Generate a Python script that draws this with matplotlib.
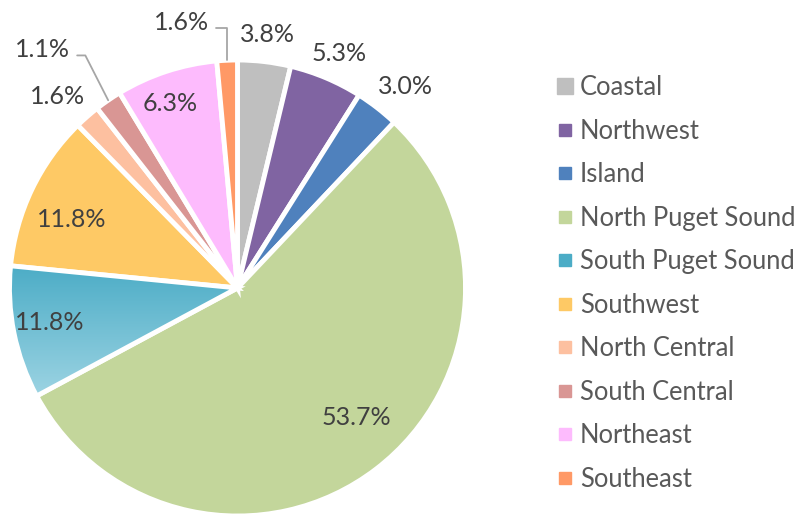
import matplotlib.pyplot as plt
import numpy as np
from matplotlib.lines import Line2D

plt.rcParams['font.family'] = ['Lato', 'DejaVu Sans']

regions = ['Coastal', 'Northwest', 'Island', 'North Puget Sound', 'South Puget Sound',
           'Southwest', 'North Central', 'South Central', 'Northeast', 'Southeast']
# slice sizes as drawn (%)
shares = [3.75, 5.2, 3.1, 55.1, 9.4, 11.1, 1.8, 1.9, 7.2, 1.45]
# data labels as printed on the chart
pct_labels = ['3.8%', '5.3%', '3.0%', '53.7%', '11.8%', '11.8%', '1.6%', '1.1%', '6.3%', '1.6%']

colors = ['#BFBFBF', '#8064A2', '#4F81BD', '#C3D69B', '#4BACC6',
          '#FEC965', '#FDC0A0', '#D99694', '#FDBBFD', '#FF9966']
# (radius, angle nudge in degrees, leader angle or None) for each label
label_place = [(1.12, 0, None), (1.12, -0.5, None), (1.15, -2, None), (0.77, 5, None),
               (0.836, -1, None), (0.786, 3, None), (1.15, 2, None), (1.35, 4.7, 117),
               (0.86, 2, None), (1.19, 9.4, 90)]

W, H = 802, 514
fig = plt.figure(figsize=(W / 100, H / 100), dpi=100)
R = 228
cx, cy = 237.5, 288
ax = fig.add_axes([(cx - R) / W, (H - cy - R) / H, 2 * R / W, 2 * R / H])

wedges, _ = ax.pie(shares, colors=colors, startangle=90, counterclock=False,
                   wedgeprops=dict(edgecolor='white', linewidth=3.5))
ax.set_aspect('equal')
ax.axis('off')

# gradient fill on South Puget Sound
w = wedges[4]
w.set_facecolor('none')
w.set_zorder(2)
grad = np.linspace(0, 1, 256).reshape(-1, 1)
c_top = np.array([0x4B, 0xAC, 0xC6]) / 255
c_bot = np.array([0x9D, 0xD4, 0xE3]) / 255
img = c_top[None, None, :] * (1 - grad[:, :, None]) + c_bot[None, None, :] * grad[:, :, None]
im = ax.imshow(img, extent=(-1, 0, -0.48, 0.1), origin='upper', aspect='auto', zorder=1)
im.set_clip_path(w)
ax.set_xlim(-1, 1)
ax.set_ylim(-1, 1)

for wd, txt, (r, nudge, lead) in zip(wedges, pct_labels, label_place):
    mid = np.deg2rad((wd.theta1 + wd.theta2) / 2)
    ang = mid + np.deg2rad(nudge)
    pos = (r * np.cos(ang), r * np.sin(ang))
    if lead is None:
        ax.text(pos[0], pos[1], txt, ha='center', va='center', fontsize=18, color='#404040')
    else:
        rim = (1.0 * np.cos(mid), 1.0 * np.sin(mid))
        ax.annotate(txt, xy=rim, xytext=pos, ha='center', va='center', fontsize=18,
                    color='#404040',
                    arrowprops=dict(arrowstyle='-', color='#A6A6A6', lw=1.3,
                                    connectionstyle='angle,angleA=0,angleB=%d,rad=0' % lead,
                                    relpos=(1.0, 0.25), shrinkA=3, shrinkB=0))

handles = [Line2D([], [], marker='s', linestyle='none', color=c,
                  markersize=11.5 if i == 0 else 8) for i, c in enumerate(colors)]
fig.legend(handles, regions, loc='upper left', bbox_to_anchor=(557.8 / W, 1 - 75 / H),
           frameon=False, fontsize=18.4, labelspacing=0.725, handlelength=0.6,
           handletextpad=0.27, borderpad=0, borderaxespad=0, labelcolor='#595959')

fig.savefig('out.png', dpi=100)
